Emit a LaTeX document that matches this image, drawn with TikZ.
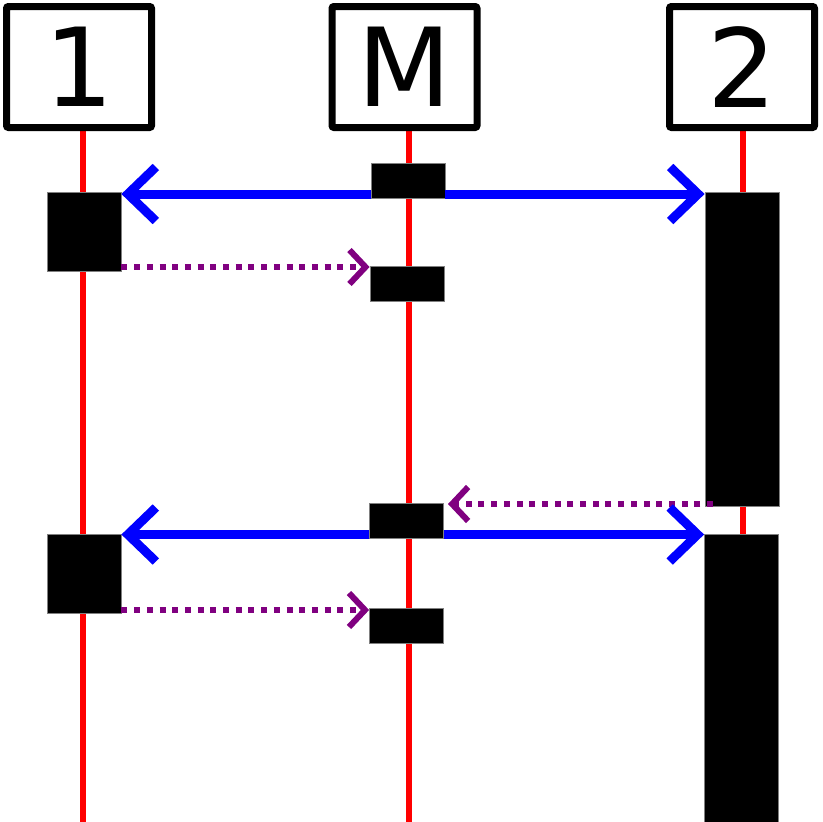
\documentclass[tikz,border=0pt]{standalone}
\usepackage{fontspec}
\setmainfont{DejaVu Sans}
\usetikzlibrary{arrows.meta}
\definecolor{lifered}{RGB}{255,0,0}
\definecolor{msgblue}{RGB}{0,0,255}
\definecolor{retpurple}{RGB}{128,0,128}
\begin{document}
\begin{tikzpicture}[x=1pt,y=-1pt,
  head/.style={draw=black, line width=7pt, rounded corners=2pt, fill=white,
    minimum width=145pt, minimum height=121pt, inner sep=0pt,
    font=\fontsize{109}{109}\selectfont},
  life/.style={draw=lifered, line width=6pt},
  act/.style={fill=black, draw=gray, line width=0.8pt, minimum width=74pt, inner sep=0pt},
  call/.style={draw=msgblue, line width=9pt, -{Straight Barb[length=28pt,width=54pt,sharp]}},
  ret/.style={draw=retpurple, line width=6pt, dash pattern=on 6pt off 6.7pt,
    -{Straight Barb[length=16pt,width=34pt,sharp]}}
]
\useasboundingbox (0,0) rectangle (822,822);
% lifelines
\coordinate (l1t) at (83,128);  \coordinate (l1b) at (83,822);
\coordinate (lMt) at (408.5,128); \coordinate (lMb) at (408.5,822);
\coordinate (l2t) at (742.5,128); \coordinate (l2b) at (742.5,822);
\draw[life] (l1t) -- (l1b);
\draw[life] (lMt) -- (lMb);
\draw[life] (l2t) -- (l2b);
% header boxes
\node[head] (h1) at (79,67) {1};
\node[head] (hM) at (404.5,67) {M};
\node[head] (h2) at (742,67) {2};
% activations
\node[act, minimum height=35pt] (mA) at (408,180.5) {};
\node[act, minimum height=79pt] (a1) at (84,231.5) {};
\node[act, minimum height=35pt] (mB) at (407,283.5) {};
\node[act, minimum height=314pt] (b1) at (742,349) {};
\node[act, minimum height=35pt] (mC) at (406.5,520.5) {};
\node[act, minimum height=79pt] (a2) at (84,573.5) {};
\node[act, minimum height=35pt] (mD) at (406.5,625.5) {};
\node[act, minimum height=288pt] (b2) at (741.5,678) {};
% message rows
\coordinate (y1) at (0,194);
\coordinate (p1) at (0,267);
\coordinate (p2s) at (713,504);
\coordinate (p2e) at (448,504);
\coordinate (y2) at (0,534.5);
\coordinate (p3) at (0,610);
\draw[call] (mA.west |- y1) -- (a1.east |- y1);
\draw[call] (mA.east |- y1) -- (b1.west |- y1);
\draw[ret] (a1.east |- p1) -- (mB.west |- p1);
\draw[ret] (p2s) -- (p2e);
\draw[call] (mC.west |- y2) -- (a2.east |- y2);
\draw[call] (mC.east |- y2) -- (b2.west |- y2);
\draw[ret] (a2.east |- p3) -- (mD.west |- p3);
\end{tikzpicture}
\end{document}
